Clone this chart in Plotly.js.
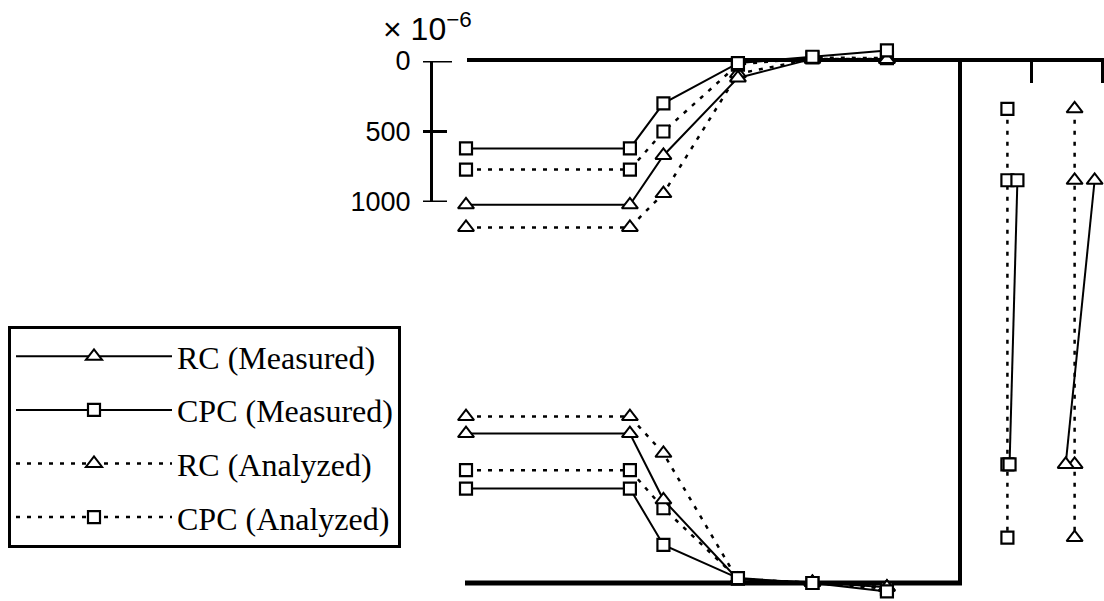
<!DOCTYPE html>
<html>
<head>
<meta charset="utf-8">
<script src="https://cdn.plot.ly/plotly-3.0.1.min.js"></script>
<style>
  html, body { margin: 0; padding: 0; background: #fff; }
  #chart { width: 1104px; height: 601px; }
</style>
</head>
<body>
<div id="chart"></div>
<script>
// Gauge positions along the beam (mm from the left gauge)
const beamPos = [0, 220, 265, 365, 465, 565];

// Top-fibre strain along the beam (x10^-6, plotted downward)
const rcMeasTop  = [1020, 1020, 670, 120, -15, -10];
const cpcMeasTop = [620, 620, 300, 15, -30, -75];
const rcAnaTop   = [1180, 1180, 940, 90, -15, -15];
const cpcAnaTop  = [770, 770, 500, 25, -25, -20];

// Bottom-fibre strain along the beam (x10^-6, plotted upward)
const rcMeasBot  = [1060, 1060, 590, 25, 5, -30];
const cpcMeasBot = [670, 670, 270, 35, 0, -60];
const rcAnaBot   = [1180, 1180, 920, 20, 5, -30];
const cpcAnaBot  = [800, 800, 530, 30, 0, -40];

// Strain through the section depth (depth in mm, strain x10^-6)
const sectionDepth     = [28, 69, 232, 274];
const sectionDepthMeas = [69, 232];
const rcAnaSec   = [610, 610, 610, 610];
const rcMeasSec  = [890, 485];
const cpcAnaSec  = [-330, -330, -330, -330];
const cpcMeasSec = [-190, -300];
const sectionTicks = [0, 1000];

// Strain scale bar
const scaleTicks = [0, 500, 1000];
const scaleText  = ['0', '500', '1000'];

const names = ['RC (Measured)', 'CPC (Measured)', 'RC (Analyzed)', 'CPC (Analyzed)'];

// page geometry helpers (pixels -> paper fractions)
const W = 1104, H = 601;
const px = v => v / W;
const py = v => 1 - v / H;

const solid  = { color: 'black', width: 2 };
const dotted = { color: 'black', width: 2.5, dash: '4px,7px' };
const tri = { symbol: 'triangle-up', size: 14, color: 'white', line: { color: 'black', width: 2 } };
const sq  = { symbol: 'square', size: 12, color: 'white', line: { color: 'black', width: 2.2 } };

const series = [
  { name: names[0], line: solid,  marker: tri, top: rcMeasTop,  bot: rcMeasBot,  sx: rcMeasSec,  sy: sectionDepthMeas },
  { name: names[1], line: solid,  marker: sq,  top: cpcMeasTop, bot: cpcMeasBot, sx: cpcMeasSec, sy: sectionDepthMeas },
  { name: names[2], line: dotted, marker: tri, top: rcAnaTop,   bot: rcAnaBot,   sx: rcAnaSec,   sy: sectionDepth },
  { name: names[3], line: dotted, marker: sq,  top: cpcAnaTop,  bot: cpcAnaBot,  sx: cpcAnaSec,  sy: sectionDepth }
];

const traces = [];
// analyzed drawn first so measured sits on top
const drawOrder = [2, 3, 0, 1];
drawOrder.forEach(i => {
  const s = series[i];
  const common = { mode: 'lines+markers', line: s.line, marker: s.marker, legendgroup: s.name, legendrank: i + 1, cliponaxis: false };
  traces.push(Object.assign({}, common, { name: s.name, x: beamPos, y: s.top, xaxis: 'x', yaxis: 'y', showlegend: true }));
  traces.push(Object.assign({}, common, { name: s.name, x: beamPos, y: s.bot, xaxis: 'x', yaxis: 'y3', showlegend: false }));
  traces.push(Object.assign({}, common, { name: s.name, x: s.sx, y: s.sy, xaxis: 'x2', yaxis: 'y4', showlegend: false }));
});
// carrier for the strain scale bar axis
traces.push({ x: [], y: [], xaxis: 'x', yaxis: 'y2', showlegend: false, hoverinfo: 'skip' });

// scales: beam 0.745 px/mm from x=466; strain 0.141 px per 1e-6; section 0.0715 px per 1e-6
const xs = 0.745, ss = 0.141, sec = 0.0715;
const hidden = { visible: false, showgrid: false, zeroline: false, fixedrange: true };

// tick marks of the scale bar cross its spine
const scaleTickShapes = scaleTicks.map(v => ({
  type: 'line', xref: 'paper', yref: 'y2', x0: px(423), x1: px(v === 0 ? 452 : 447), y0: v, y1: v,
  line: { color: 'black', width: 3 }
}));

const layout = {
  width: W, height: H,
  margin: { l: 0, r: 0, t: 0, b: 0 },
  paper_bgcolor: 'white', plot_bgcolor: 'rgba(0,0,0,0)',
  showlegend: true,
  xaxis: Object.assign({}, hidden, { domain: [0, 1], range: [-466 / xs, (W - 466) / xs] }),
  yaxis: Object.assign({}, hidden, { domain: [0, 1], range: [(H - 61) / ss, -61 / ss] }),
  yaxis3: Object.assign({}, hidden, { overlaying: 'y', anchor: 'x', range: [-(H - 583) / ss, 583 / ss] }),
  yaxis2: {
    domain: [py(202), py(61)], range: [1000, 0], anchor: 'free', position: px(431),
    showline: true, linecolor: 'black', linewidth: 3,
    ticks: '', tickvals: scaleTicks, ticktext: scaleText, ticklabelstandoff: 14,
    tickfont: { family: 'Liberation Sans, Arial, sans-serif', size: 27, color: 'black' },
    showgrid: false, zeroline: false, fixedrange: true
  },
  xaxis2: {
    domain: [px(960), 1], range: [(960 - 1031) / sec, (W - 1031) / sec],
    anchor: 'free', position: py(60), side: 'top',
    showline: false, ticks: 'inside', ticklen: 22, tickwidth: 3, tickcolor: 'black',
    tickvals: sectionTicks, showticklabels: false, showgrid: false, zeroline: false, fixedrange: true
  },
  yaxis4: Object.assign({}, hidden, { domain: [0, 1], anchor: 'x2', range: [(H - 60) / 1.743, -60 / 1.743] }),
  shapes: [
    { type: 'line', xref: 'paper', yref: 'paper', x0: px(467), x1: px(1104), y0: py(60), y1: py(60), line: { color: 'black', width: 4 }, layer: 'below' },
    { type: 'line', xref: 'paper', yref: 'paper', x0: px(465), x1: px(962), y0: py(583), y1: py(583), line: { color: 'black', width: 5 }, layer: 'below' },
    { type: 'line', xref: 'paper', yref: 'paper', x0: px(960), x1: px(960), y0: py(58), y1: py(585), line: { color: 'black', width: 4 }, layer: 'below' }
  ].concat(scaleTickShapes),
  annotations: [
    { xref: 'paper', yref: 'paper', x: px(381), y: py(27), xanchor: 'left', yanchor: 'middle', showarrow: false,
      text: '× 10<sup>−6</sup>', font: { family: 'Liberation Sans, Arial, sans-serif', size: 32, color: 'black' } }
  ],
  legend: {
    x: px(8), y: py(326), xanchor: 'left', yanchor: 'top',
    bgcolor: 'white', bordercolor: 'black', borderwidth: 3,
    font: { family: 'Liberation Serif, Times New Roman, serif', size: 32, color: 'black' },
    traceorder: 'grouped', tracegroupgap: 9, itemwidth: 156
  }
};

Plotly.newPlot('chart', traces, layout, { displayModeBar: false, staticPlot: true });
</script>
</body>
</html>
